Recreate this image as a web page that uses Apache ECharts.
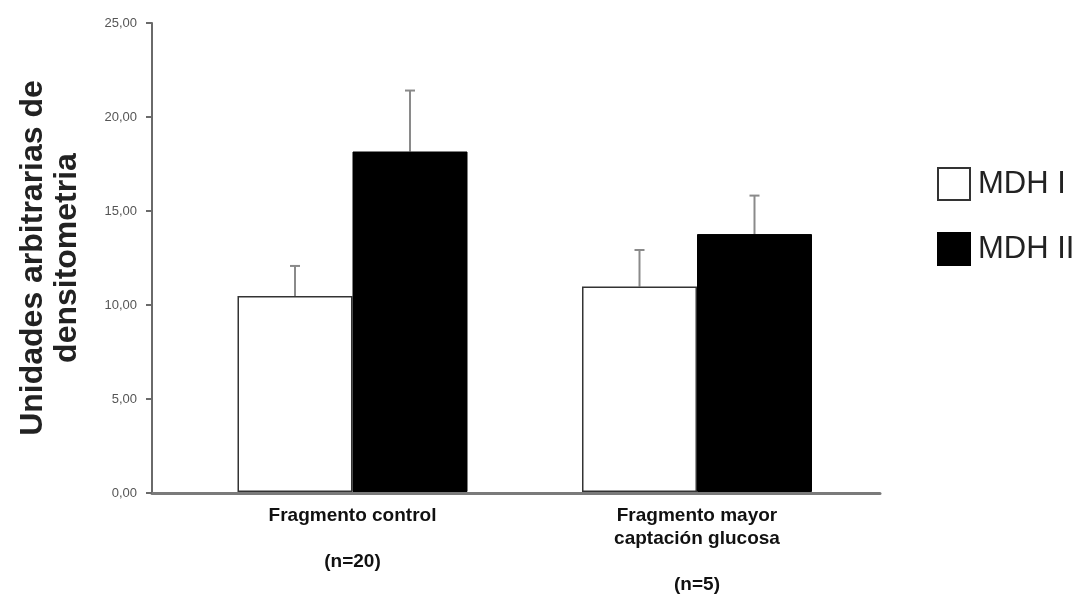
<!DOCTYPE html>
<html>
<head>
<meta charset="utf-8">
<script src="https://cdn.jsdelivr.net/npm/echarts@6/dist/echarts.min.js"></script>
<style>html,body{margin:0;padding:0;background:#fff}#c{width:1080px;height:596px}</style>
</head>
<body>
<div id="c"></div>
<script>
var categories = ['Fragmento control\n\n(n=20)', 'Fragmento mayor\ncaptación glucosa\n\n(n=5)'];
var seriesNames = ['MDH I', 'MDH II'];
var mdh1 = [10.45, 10.95];
var mdh2 = [18.15, 13.75];
var err1 = [1.6, 1.95];
var err2 = [3.25, 2.05];
var yTicks = [0, 5, 10, 15, 20, 25];

var chart = echarts.init(document.getElementById('c'));
var BAR_W = 115;

function errData(vals, errs) {
  return vals.map(function (v, i) { return [i, v, v + errs[i]]; });
}
function errRender(offset) {
  return function (params, api) {
    var base = api.coord([api.value(0), api.value(1)]);
    var top = api.coord([api.value(0), api.value(2)]);
    var x = base[0] + offset;
    var st = { stroke: '#8a8a8a', lineWidth: 2 };
    return {
      type: 'group',
      children: [
        { type: 'line', shape: { x1: x, y1: base[1], x2: x, y2: top[1] }, style: st },
        { type: 'line', shape: { x1: x - 5, y1: top[1], x2: x + 5, y2: top[1] }, style: st }
      ]
    };
  };
}

var option = {
  animation: false,
  backgroundColor: '#fff',
  legend: {
    orient: 'vertical',
    left: 932,
    top: 162,
    icon: 'rect',
    itemWidth: 32,
    itemHeight: 32,
    itemGap: 31,
    data: seriesNames,
    textStyle: { fontFamily: 'Liberation Sans, Arial, sans-serif', fontSize: 31, lineHeight: 32, color: '#222', padding: [0, 0, 0, 3] }
  },
  grid: [
    { left: 152, right: 200, top: 23, bottom: 103, containLabel: false },
    { left: 180.25, right: 210.75, top: 23, bottom: 103, containLabel: false }
  ],
  xAxis: [
    {
      type: 'category', gridIndex: 0, data: categories,
      axisLine: { lineStyle: { color: '#7a7a7a', width: 3 } },
      axisTick: { show: false }, axisLabel: { show: false }
    },
    {
      type: 'category', gridIndex: 1, data: categories,
      axisLine: { show: false }, axisTick: { show: false },
      axisLabel: {
        margin: 12,
        fontFamily: 'Liberation Sans, Arial, sans-serif',
        fontSize: 19, fontWeight: 'bold', color: '#111', lineHeight: 23
      }
    }
  ],
  yAxis: [
    {
      type: 'value', gridIndex: 0, min: 0, max: 25, interval: 5,
      axisLine: { show: true, lineStyle: { color: '#6a6a6a', width: 2 } },
      axisTick: { show: true, length: 6, lineStyle: { color: '#6a6a6a', width: 2 } },
      splitLine: { show: false },
      axisLabel: {
        margin: 15, fontFamily: 'Liberation Sans, Arial, sans-serif', fontSize: 13, color: '#555',
        formatter: function (v) { return v.toFixed(2).replace('.', ','); }
      },
      name: 'Unidades arbitrarias de\ndensitometria',
      nameLocation: 'middle',
      nameGap: 68,
      nameTextStyle: { fontFamily: 'Liberation Sans, Arial, sans-serif', fontSize: 32, fontWeight: 'bold', color: '#222', lineHeight: 34 }
    },
    {
      type: 'value', gridIndex: 1, min: 0, max: 25, interval: 5, show: false
    }
  ],
  series: [
    {
      name: seriesNames[0], type: 'bar', xAxisIndex: 1, yAxisIndex: 1,
      data: mdh1, barWidth: BAR_W, barGap: '0%',
      itemStyle: { color: '#fff', borderColor: '#333', borderWidth: 1.5 }
    },
    {
      name: seriesNames[1], type: 'bar', xAxisIndex: 1, yAxisIndex: 1,
      data: mdh2, barWidth: BAR_W, barGap: '0%',
      itemStyle: { color: '#000', borderColor: '#000', borderWidth: 1 }
    },
    {
      type: 'custom', xAxisIndex: 1, yAxisIndex: 1, z: 1,
      data: errData(mdh1, err1), renderItem: errRender(-BAR_W / 2)
    },
    {
      type: 'custom', xAxisIndex: 1, yAxisIndex: 1, z: 1,
      data: errData(mdh2, err2), renderItem: errRender(BAR_W / 2)
    }
  ]
};
chart.setOption(option);
</script>
</body>
</html>
